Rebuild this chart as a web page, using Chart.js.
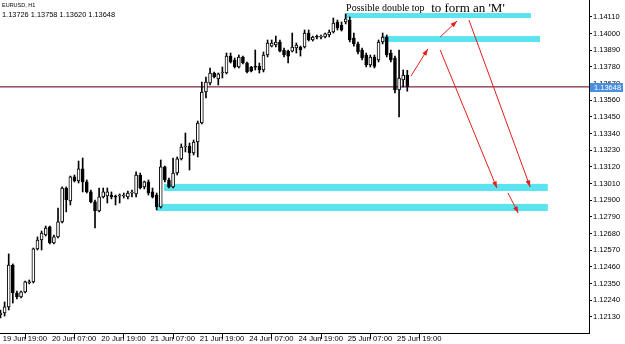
<!DOCTYPE html>
<html>
<head>
<meta charset="utf-8">
<script src="https://cdn.jsdelivr.net/npm/chart.js@4.4.1/dist/chart.umd.min.js"></script>
<style>
  html, body { margin: 0; padding: 0; background: #fff; }
</style>
</head>
<body>
<canvas id="chart" width="625" height="344"></canvas>
<script>
// EURUSD H1 bars, 19 Jun 19:00 -> 25 Jun 22:00
const opens = [
  1.12143,1.12156,1.12196,1.12473,1.12288,1.12262,1.12295,1.12354,1.12361,1.12579,
  1.12638,1.12671,1.12724,1.12618,1.12658,1.12757,1.12981,1.12895,1.13054,1.13027,
  1.13107,1.13021,1.12955,1.12889,1.12829,1.12922,1.12928,1.12935,1.12922,1.12928,
  1.12928,1.12922,1.12948,1.12942,1.13067,1.12988,1.13021,1.12955,1.12935,1.12856,
  1.13120,1.13034,1.12988,1.13080,1.13173,1.13252,1.13258,1.13212,1.13285,1.13410,
  1.13615,1.13674,1.13740,1.13701,1.13740,1.13740,1.13852,1.13826,1.13780,1.13846,
  1.13806,1.13780,1.13780,1.13784,1.13760,1.13859,1.13918,1.13925,1.13945,1.13892,
  1.13885,1.13885,1.13905,1.13912,1.13912,1.14004,1.13958,1.13978,1.13976,1.13978,
  1.13991,1.14011,1.14077,1.14057,1.14077,1.14090,1.13971,1.13932,1.13892,1.13859,
  1.13793,1.13846,1.13826,1.13945,1.13978,1.13872,1.13839,1.13628,1.13694,1.13726
];
const highs = [
  1.12176,1.12229,1.12546,1.12480,1.12301,1.12301,1.12367,1.12374,1.12585,1.12658,
  1.12697,1.12730,1.12730,1.12671,1.12849,1.12988,1.12988,1.13060,1.13067,1.13159,
  1.13179,1.13034,1.12968,1.12902,1.12981,1.12981,1.12981,1.12955,1.12935,1.12942,
  1.12948,1.12961,1.12968,1.13087,1.13080,1.13027,1.13034,1.12981,1.12948,1.13166,
  1.13126,1.13047,1.13179,1.13186,1.13272,1.13344,1.13278,1.13298,1.13423,1.13681,
  1.13714,1.13773,1.13747,1.13740,1.13780,1.13872,1.13872,1.13839,1.13859,1.13852,
  1.13813,1.13784,1.13892,1.13806,1.13879,1.13958,1.13958,1.13984,1.13958,1.13905,
  1.13892,1.14004,1.13938,1.13918,1.14024,1.14024,1.13984,1.13991,1.13991,1.14004,
  1.14024,1.14103,1.14090,1.14077,1.14130,1.14110,1.14004,1.13945,1.13905,1.13872,
  1.13859,1.13859,1.13958,1.14004,1.13991,1.13892,1.13852,1.13892,1.13760,1.13758
];
const lows = [
  1.12123,1.12136,1.12176,1.12222,1.12249,1.12255,1.12288,1.12348,1.12354,1.12572,
  1.12572,1.12664,1.12612,1.12612,1.12651,1.12750,1.12823,1.12869,1.13021,1.13014,
  1.12955,1.12948,1.12882,1.12717,1.12823,1.12915,1.12882,1.12909,1.12869,1.12882,
  1.12915,1.12909,1.12922,1.12922,1.12975,1.12975,1.12935,1.12915,1.12836,1.12849,
  1.13021,1.12981,1.12981,1.13067,1.13166,1.13219,1.13100,1.13199,1.13186,1.13404,
  1.13575,1.13661,1.13707,1.13661,1.13707,1.13734,1.13806,1.13773,1.13773,1.13800,
  1.13740,1.13747,1.13760,1.13740,1.13747,1.13846,1.13912,1.13912,1.13879,1.13846,
  1.13806,1.13879,1.13872,1.13852,1.13905,1.13951,1.13951,1.13965,1.13965,1.13971,
  1.13978,1.14004,1.14024,1.14017,1.14064,1.13945,1.13918,1.13866,1.13826,1.13780,
  1.13780,1.13773,1.13813,1.13932,1.13846,1.13813,1.13608,1.13450,1.13648,1.13620
];
const closes = [
  1.12156,1.12196,1.12473,1.12288,1.12262,1.12295,1.12361,1.12361,1.12579,1.12638,
  1.12684,1.12717,1.12618,1.12658,1.12757,1.12981,1.12902,1.13054,1.13027,1.13107,
  1.13021,1.12955,1.12889,1.12829,1.12922,1.12955,1.12955,1.12922,1.12920,1.12930,
  1.12935,1.12948,1.12950,1.13067,1.12981,1.13021,1.12948,1.12922,1.12856,1.13120,
  1.13034,1.12988,1.13080,1.13173,1.13252,1.13258,1.13212,1.13285,1.13410,1.13615,
  1.13681,1.13740,1.13714,1.13734,1.13747,1.13852,1.13813,1.13780,1.13846,1.13806,
  1.13747,1.13753,1.13778,1.13760,1.13859,1.13938,1.13938,1.13945,1.13885,1.13859,
  1.13852,1.13912,1.13925,1.13892,1.14004,1.13958,1.13978,1.13976,1.13978,1.13998,
  1.14011,1.14070,1.14037,1.14024,1.14097,1.13958,1.13932,1.13879,1.13839,1.13793,
  1.13846,1.13784,1.13945,1.13978,1.13859,1.13826,1.13628,1.13707,1.13727,1.13648
];

const timeLabels = ['19 Jun 19:00','20 Jun 07:00','20 Jun 19:00','21 Jun 07:00','21 Jun 19:00',
                    '24 Jun 07:00','24 Jun 19:00','25 Jun 07:00','25 Jun 19:00'];
const timeBars = [0, 12, 24, 36, 48, 60, 72, 84, 96];
const priceTicks = [1.12130,1.12240,1.12350,1.12460,1.12570,1.12680,1.12790,1.12900,1.13010,1.13120,
                    1.13230,1.13340,1.13450,1.13560,1.13670,1.13780,1.13890,1.14000,1.14110];

const bid = 1.13648;
const header = ['EURUSD, H1', '1.13726 1.13758 1.13620 1.13648'];

// drawn annotations, in bar index / price
const zones = [      // [fromBar, toBar, top, bottom]
  [84.1, 129.1, 1.14136, 1.14103],
  [93.1, 131.3, 1.13984, 1.13945],
  [39.8, 133.2, 1.13008, 1.12961],
  [38.1, 133.2, 1.12876, 1.12829]
];
const arrows = [     // [fromBar, fromPrice, toBar, toPrice]
  [99.9, 1.13720, 104.0, 1.13899],
  [107.0, 1.13978, 111.1, 1.14083],
  [107.0, 1.13892, 120.8, 1.12981],
  [114.0, 1.14090, 128.9, 1.12988],
  [123.5, 1.12948, 126.0, 1.12816]
];
const notes = [
  { text: 'Possible double top', bar: 84.1, price: 1.14149, size: 10 },
  { text: "to form an 'M'", bar: 104.8, price: 1.14143, size: 13 }
];

const bodyColors = opens.map((o, i) => closes[i] >= o ? '#ffffff' : '#000000');

const overlay = {
  id: 'overlay',
  beforeDatasetsDraw(chart) {
    const { ctx, chartArea: a, scales: { x, y } } = chart;
    ctx.save();
    ctx.fillStyle = '#5ce3f0';
    zones.forEach(z => {
      const x0 = x.getPixelForValue(z[0]), x1 = x.getPixelForValue(z[1]);
      const y0 = y.getPixelForValue(z[2]), y1 = y.getPixelForValue(z[3]);
      ctx.fillRect(x0, y0, x1 - x0, y1 - y0);
    });
    // red ask line sitting right on top of the blue bid line
    const py = Math.round(y.getPixelForValue(bid));
    ctx.fillStyle = '#d8432f';
    ctx.fillRect(a.left, py - 1, a.right - a.left, 1);
    ctx.fillStyle = '#86aee6';
    ctx.fillRect(a.left, py, a.right - a.left, 1);
    ctx.restore();
  },
  afterDatasetsDraw(chart) {
    const { ctx, scales: { x, y } } = chart;
    ctx.save();
    ctx.strokeStyle = '#e0201c';
    ctx.fillStyle = '#e0201c';
    ctx.lineWidth = 1;
    arrows.forEach(r => {
      const x0 = x.getPixelForValue(r[0]), y0 = y.getPixelForValue(r[1]);
      const x1 = x.getPixelForValue(r[2]), y1 = y.getPixelForValue(r[3]);
      const ang = Math.atan2(y1 - y0, x1 - x0);
      ctx.beginPath(); ctx.moveTo(x0, y0); ctx.lineTo(x1, y1); ctx.stroke();
      ctx.beginPath();
      ctx.moveTo(x1, y1);
      ctx.lineTo(x1 - 7 * Math.cos(ang - 0.35), y1 - 7 * Math.sin(ang - 0.35));
      ctx.lineTo(x1 - 7 * Math.cos(ang + 0.35), y1 - 7 * Math.sin(ang + 0.35));
      ctx.closePath(); ctx.fill();
    });
    ctx.fillStyle = '#000';
    ctx.textBaseline = 'alphabetic';
    notes.forEach(n => {
      ctx.font = n.size + 'px "Liberation Serif", serif';
      ctx.fillText(n.text, x.getPixelForValue(n.bar), y.getPixelForValue(n.price));
    });
    ctx.restore();
  },
  afterDraw(chart) {
    const { ctx, chartArea: a, scales: { y } } = chart;
    ctx.save();
    ctx.fillStyle = '#000';
    ctx.textBaseline = 'alphabetic';
    ctx.font = '5.5px "Liberation Sans", sans-serif';
    ctx.fillText(header[0], 2, 7);
    ctx.font = '7.4px "Liberation Sans", sans-serif';
    ctx.fillText(header[1], 2, 17);
    const py = y.getPixelForValue(bid);
    ctx.fillStyle = '#4a8fe0';
    ctx.fillRect(a.right + 1, Math.round(py) - 4, 33, 9);
    ctx.fillStyle = '#fff';
    ctx.font = '7.5px "Liberation Sans", sans-serif';
    ctx.textBaseline = 'middle';
    ctx.fillText(bid.toFixed(5), a.right + 5, Math.round(py) + 0.5);
    ctx.restore();
  }
};

new Chart('chart', {
  type: 'bar',
  plugins: [overlay],
  data: {
    datasets: [
      {
        data: opens.map((o, i) => ({ x: i, y: [o, closes[i]] })),
        backgroundColor: bodyColors,
        borderColor: '#000',
        borderWidth: 1,
        borderSkipped: false,
        barThickness: 3,
        minBarLength: 1,
        grouped: false
      },
      {
        data: highs.map((h, i) => ({ x: i, y: [lows[i], h] })),
        backgroundColor: '#000',
        borderWidth: 0,
        barThickness: 1,
        grouped: false
      }
    ]
  },
  options: {
    responsive: false,
    animation: false,
    events: [],
    layout: { padding: 0 },
    plugins: { legend: { display: false }, tooltip: { enabled: false } },
    scales: {
      x: {
        type: 'linear',
        min: -0.12,
        max: 143.22,
        offset: false,
        afterFit: s => { s.height = 11; s.paddingLeft = 0; s.paddingRight = 0; },
        afterBuildTicks: s => { s.ticks = timeBars.map(v => ({ value: v })); },
        grid: { drawOnChartArea: false, drawTicks: true, tickLength: 6, color: '#000' },
        border: { display: true, color: '#000' },
        ticks: {
          align: 'start',
          padding: -5,
          maxRotation: 0,
          autoSkip: false,
          color: '#000',
          font: { family: 'Liberation Sans', size: 7.7 },
          callback: v => ' ' + timeLabels[timeBars.indexOf(v)]
        }
      },
      y: {
        position: 'right',
        min: 1.12024,
        max: 1.14222,
        afterFit: s => { s.width = 36; s.paddingTop = 0; s.paddingBottom = 0; },
        afterBuildTicks: s => { s.ticks = priceTicks.map(v => ({ value: v })); },
        grid: { drawOnChartArea: false, drawTicks: true, tickLength: 3, color: '#000' },
        border: { display: true, color: '#000' },
        ticks: {
          padding: 1,
          color: '#000',
          font: { family: 'Liberation Sans', size: 7.5 },
          callback: v => v.toFixed(5)
        }
      }
    }
  }
});
</script>
</body>
</html>
